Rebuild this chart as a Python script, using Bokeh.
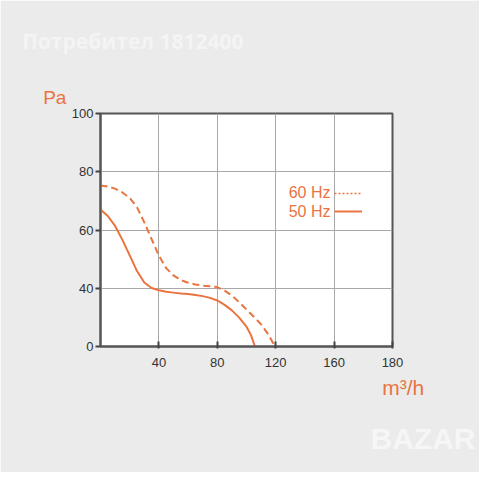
from bokeh.plotting import figure
from bokeh.models import Range1d, FixedTicker, Label, Legend, LegendItem, Title
from bokeh.embed import file_html
from bokeh.resources import INLINE

# 60 Hz curve (dashed)
flow_60 = [0, 5, 10, 15, 20, 25, 30, 35, 40, 45, 50, 55, 60, 65, 70, 75, 80,
           85, 90, 95, 100, 105, 110, 115, 119.5]
pa_60 = [75.3, 74.9, 74.2, 72.9, 71.0, 67.8, 62.6, 56.9, 51.2, 46.9, 44.4, 42.8,
         41.9, 41.3, 40.9, 40.7, 40.4, 39.2, 37.5, 35.2, 32.7, 30.2, 27.6, 24.1, 20.0]

# 50 Hz curve (solid)
flow_50 = [0, 5, 10, 15, 20, 25, 30, 35, 40, 45, 50, 55, 60, 65, 70, 75, 80,
           85, 90, 95, 100, 103, 105.8]
pa_50 = [67.0, 64.8, 61.4, 56.6, 51.3, 45.9, 42.0, 40.1, 39.3, 38.8, 38.5, 38.2,
         38.0, 37.7, 37.3, 36.7, 35.8, 34.3, 32.4, 29.9, 26.8, 24.0, 20.0]

x_ticks = [40, 80, 120, 160, 200]
x_tick_labels = ["40", "80", "120", "160", "180"]
y_ticks = [20, 40, 60, 80, 100]
y_tick_labels = ["0", "40", "60", "80", "100"]

ORANGE = "#E9743F"
BG = "#EBEBEB"
TXT = "#333333"
FONT = "Liberation Sans"

FL, FT, FW, FH = 100, 113, 292, 233
X0, X1, Y0, Y1 = 0, 200, 20, 100

p = figure(frame_width=FW, frame_height=FH,
           min_border_left=FL, min_border_right=87,
           min_border_top=FT, min_border_bottom=119,
           x_range=Range1d(X0, X1), y_range=Range1d(Y0, Y1),
           output_backend="svg", toolbar_location=None)

p.background_fill_color = "white"
p.border_fill_color = BG
p.outline_line_color = "#555555"
p.outline_line_width = 2

for ax in (p.xaxis[0], p.yaxis[0]):
    ax.axis_line_color = "#555555"
    ax.axis_line_width = 2
    ax.major_tick_line_color = "#444444"
    ax.major_tick_line_width = 2
    ax.minor_tick_line_color = None
    ax.major_label_text_font = FONT
    ax.major_label_text_font_size = "13px"
    ax.major_label_text_color = TXT

p.xaxis.ticker = FixedTicker(ticks=x_ticks)
p.xaxis.major_label_overrides = dict(zip(x_ticks, x_tick_labels))
p.xaxis.major_tick_in = 5
p.xaxis.major_tick_out = 2
p.xaxis.major_label_standoff = 9

p.yaxis.ticker = FixedTicker(ticks=y_ticks)
p.yaxis.major_label_overrides = dict(zip(y_ticks, y_tick_labels))
p.yaxis.major_tick_in = 0
p.yaxis.major_tick_out = 5
p.yaxis.major_label_standoff = 2

p.xgrid.ticker = FixedTicker(ticks=x_ticks)
p.ygrid.ticker = FixedTicker(ticks=y_ticks)
p.grid.grid_line_color = "#A8A8A8"
p.grid.grid_line_width = 1

p.line(flow_60, pa_60, line_color=ORANGE, line_width=2, line_dash="7 4")
p.line(flow_50, pa_50, line_color=ORANGE, line_width=2)

# legend keys (single-point lines draw nothing themselves)
k60 = p.line(x=flow_60[:1], y=pa_60[:1], line_color=ORANGE, line_width=1.3, line_dash="2 2")
k50 = p.line(x=flow_50[:1], y=pa_50[:1], line_color=ORANGE, line_width=2)
legend = Legend(items=[LegendItem(label=" ", renderers=[k60]),
                       LegendItem(label=" ", renderers=[k50])],
                location=(234, 126), glyph_width=28, glyph_height=18,
                label_height=18, spacing=0, padding=0, margin=0,
                background_fill_alpha=0, border_line_alpha=0,
                label_text_font_size="8px")
p.add_layout(legend)


def to_data(px, py):
    return (X0 + (px - FL) / FW * (X1 - X0),
            Y0 + (FT + FH - py) / FH * (Y1 - Y0))


def lab(text, px, py, size, color, align="left", baseline="alphabetic",
        style="normal", font=FONT):
    x, y = to_data(px, py)
    p.add_layout(Label(x=x, y=y, text=text, text_font=font, text_font_size=size,
                       text_color=color, text_align=align, text_baseline=baseline,
                       text_font_style=style))


lab("60 Hz", 330, 192.3, "16px", ORANGE, align="right", baseline="middle")
lab("50 Hz", 330, 210.7, "16px", ORANGE, align="right", baseline="middle")

# texts outside the frame as titles
p.add_layout(Title(text="Pa", align="left", offset=-57.3, text_font=FONT,
                   text_font_size="19px", text_font_style="normal",
                   text_color=ORANGE, standoff=11), "above")
p.add_layout(Title(text="Потребител 1812400", align="left", offset=-78.3,
                   text_font="Open Sans", text_font_size="21px",
                   text_font_style="bold", text_color="#F4F4F4", standoff=49), "above")

p.add_layout(Title(text="m³/h", align="left", offset=281.7, text_font=FONT,
                   text_font_size="21px", text_font_style="normal",
                   text_color=ORANGE, standoff=8), "below")
p.add_layout(Title(text="BAZAR", align="left", offset=270, text_font=FONT,
                   text_font_size="30px", text_font_style="bold",
                   text_color="#F6F6F6", standoff=35), "below")

open("out.html", "w").write(file_html(p, INLINE))
